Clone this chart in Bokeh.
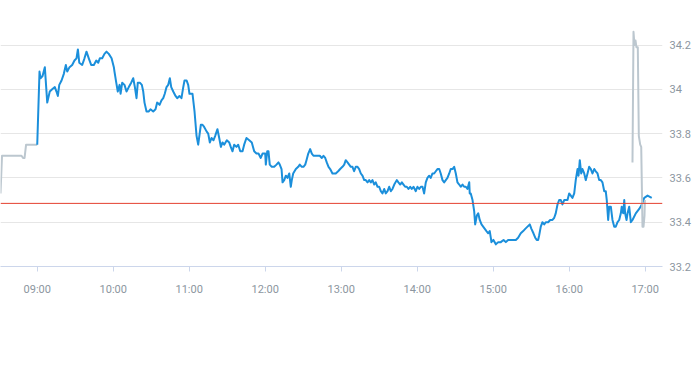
from bokeh.plotting import figure
from bokeh.models import FixedTicker, Span
from bokeh.embed import file_html
from bokeh.resources import INLINE

# ---- data (minutes after 09:00, price) ----
session_t = [0, 1.8, 2.6, 4.2, 6.0, 7.9, 9.9, 11.8, 13.9, 15.2, 16.3, 17.4, 19.2, 21.0, 22.6, 23.7, 25.5, 27.6, 29.4, 31.0,
             32.1, 33.2, 35.5, 37.3, 38.9, 40.7, 42.6, 44.7, 46.6, 48.2, 49.4, 51.3, 53.1, 54.7, 56.5, 58.7, 60.5, 61.0, 62.4, 63.6,
             65.0, 65.8, 67.1, 68.9, 70.5, 72.3, 74.2, 75.8, 77.1, 78.4, 79.4, 81.0, 82.6, 83.7, 84.7, 86.3, 88.1, 89.4, 91.6, 93.4,
             94.7, 96.6, 98.1, 99.5, 100.7, 102.1, 103.4, 104.7, 105.8, 107.4, 109.2, 110.5, 112.3, 113.9, 115.3, 116.3, 117.9, 119.2, 120.2, 122.6,
             124.2, 125.8, 127.1, 129.2, 130.5, 131.8, 133.7, 135.0, 136.3, 137.6, 139.2, 140.5, 142.3, 143.7, 145.0, 146.3, 147.6, 149.7, 151.6, 152.8,
             154.2, 155.5, 157.3, 158.7, 160.3, 162.1, 163.4, 165.2, 167.4, 169.4, 171.3, 173.1, 174.7, 176.5, 177.9, 180.0, 180.5, 181.6, 182.6, 183.6,
             185.2, 187.1, 188.9, 190.5, 191.5, 192.9, 193.7, 195.0, 196.3, 197.6, 199.0, 200.2, 201.0, 202.1, 204.2, 206.1, 207.3, 208.9, 210.2, 211.6,
             212.6, 214.0, 215.5, 216.8, 218.1, 220.0, 221.3, 223.1, 224.7, 226.0, 227.4, 228.6, 230.0, 231.3, 233.1, 234.5, 235.7, 237.6, 239.2, 241.0,
             242.4, 243.6, 245.0, 246.3, 247.6, 248.9, 250.2, 251.5, 252.9, 254.2, 255.5, 256.8, 258.2, 259.4, 260.8, 262.1, 263.4, 264.7, 266.1, 267.3,
             268.7, 270.0, 271.3, 272.6, 274.0, 275.2, 276.6, 277.9, 279.2, 280.5, 281.9, 283.9, 285.2, 286.6, 287.9, 289.2, 290.5, 291.8, 293.1, 294.5,
             295.7, 297.1, 298.9, 300.2, 301.6, 302.9, 304.2, 305.5, 306.8, 308.1, 309.5, 310.7, 312.1, 313.4, 314.7, 316.0, 317.4, 318.6, 320.0, 321.3,
             322.6, 323.9, 325.3, 326.5, 327.9, 329.2, 330.5, 331.8, 333.2, 334.4, 335.8, 337.1, 338.4, 339.7, 341.1, 341.5, 342.3, 343.7, 345.0, 345.8,
             347.1, 348.2, 349.4, 350.8, 352.1, 353.4, 354.7, 356.1, 357.3, 358.4, 358.6, 360.2, 362.1, 364.0, 366.0, 368.2, 370.0, 371.8, 373.9, 376.0,
             377.9, 379.7, 381.8, 383.7, 385.3, 387.1, 388.9, 390.2, 391.8, 393.2, 394.4, 395.5, 396.3, 397.6, 398.9, 400.3, 401.5, 403.4, 405.0, 406.8,
             408.2, 409.4, 410.8, 412.1, 413.4, 414.7, 416.1, 417.3, 418.7, 420.0, 421.3, 422.6, 424.0, 425.2, 426.6, 427.4, 428.4, 429.5, 430.5, 431.9,
             433.1, 434.5, 435.8, 437.1, 438.4, 439.8, 441.0, 442.4, 443.7, 445.0, 446.3, 447.7, 448.9, 449.7, 450.8, 451.6, 452.9, 454.2, 455.6, 456.8,
             458.2, 459.5, 460.8, 461.5, 462.7, 463.5, 464.2, 465.3, 466.1, 467.4, 468.7, 470.0, 472.6, 475.3, 477.4, 479.3, 481.9, 485.2]
session_p = [33.75, 34.08, 34.05, 34.06, 34.10, 33.94, 33.99, 34.00, 34.01, 33.99, 33.97, 34.02, 34.04, 34.07, 34.11, 34.08, 34.10, 34.11, 34.13, 34.14,
             34.18, 34.12, 34.11, 34.14, 34.17, 34.14, 34.11, 34.11, 34.13, 34.12, 34.14, 34.14, 34.16, 34.17, 34.16, 34.14, 34.10, 34.08, 34.03, 33.99,
             34.02, 33.98, 34.03, 34.02, 33.99, 34.01, 34.03, 34.05, 34.01, 33.96, 34.03, 34.03, 34.02, 33.99, 33.94, 33.90, 33.90, 33.91, 33.90, 33.91,
             33.94, 33.93, 33.95, 33.96, 33.98, 34.01, 34.02, 34.05, 34.01, 33.99, 33.97, 33.96, 33.97, 33.96, 34.01, 34.04, 34.04, 34.02, 33.98, 33.98,
             33.90, 33.79, 33.75, 33.84, 33.84, 33.83, 33.81, 33.80, 33.76, 33.78, 33.77, 33.79, 33.82, 33.78, 33.74, 33.76, 33.75, 33.77, 33.76, 33.74,
             33.72, 33.75, 33.74, 33.75, 33.72, 33.72, 33.75, 33.78, 33.77, 33.76, 33.72, 33.71, 33.71, 33.69, 33.71, 33.71, 33.66, 33.72, 33.72, 33.66,
             33.65, 33.65, 33.66, 33.67, 33.66, 33.64, 33.58, 33.59, 33.61, 33.60, 33.62, 33.56, 33.59, 33.62, 33.64, 33.65, 33.66, 33.65, 33.65, 33.66,
             33.68, 33.71, 33.73, 33.71, 33.70, 33.70, 33.70, 33.70, 33.69, 33.70, 33.69, 33.67, 33.65, 33.64, 33.62, 33.62, 33.62, 33.63, 33.64, 33.65,
             33.66, 33.68, 33.67, 33.66, 33.65, 33.65, 33.63, 33.65, 33.65, 33.64, 33.62, 33.61, 33.59, 33.59, 33.58, 33.59, 33.58, 33.59, 33.57, 33.58,
             33.56, 33.56, 33.54, 33.53, 33.55, 33.53, 33.54, 33.56, 33.54, 33.55, 33.57, 33.59, 33.58, 33.57, 33.58, 33.57, 33.56, 33.56, 33.55, 33.56,
             33.55, 33.56, 33.54, 33.56, 33.55, 33.56, 33.56, 33.53, 33.58, 33.60, 33.61, 33.60, 33.62, 33.62, 33.63, 33.64, 33.64, 33.62, 33.59, 33.58,
             33.59, 33.60, 33.62, 33.64, 33.64, 33.65, 33.62, 33.58, 33.57, 33.56, 33.57, 33.56, 33.56, 33.55, 33.58, 33.53, 33.53, 33.50, 33.45, 33.39,
             33.43, 33.44, 33.41, 33.39, 33.38, 33.37, 33.36, 33.35, 33.36, 33.32, 33.31, 33.32, 33.30, 33.31, 33.31, 33.32, 33.31, 33.32, 33.32, 33.32,
             33.32, 33.33, 33.35, 33.36, 33.37, 33.38, 33.39, 33.37, 33.35, 33.33, 33.32, 33.32, 33.34, 33.38, 33.40, 33.39, 33.40, 33.40, 33.41, 33.41,
             33.42, 33.44, 33.48, 33.50, 33.50, 33.48, 33.50, 33.50, 33.50, 33.53, 33.52, 33.51, 33.53, 33.59, 33.64, 33.61, 33.68, 33.62, 33.64, 33.62,
             33.59, 33.62, 33.65, 33.64, 33.62, 33.64, 33.63, 33.62, 33.59, 33.59, 33.58, 33.54, 33.54, 33.50, 33.41, 33.47, 33.47, 33.41, 33.38, 33.38,
             33.40, 33.41, 33.44, 33.47, 33.44, 33.50, 33.44, 33.41, 33.44, 33.47, 33.40, 33.41, 33.44, 33.46, 33.48, 33.51, 33.52, 33.51]

pre_t = [-29.0, -27.8, -12.4, -11.2, -10.0, -8.8, 0.0]
pre_p = [33.53, 33.70, 33.70, 33.69, 33.69, 33.75, 33.75]

post_t = [470.0, 470.8, 471.6, 472.4, 473.1, 474.2, 475.0, 476.1, 476.9, 477.9, 478.7, 479.5, 479.8]
post_p = [33.67, 34.26, 34.20, 34.22, 34.19, 34.19, 33.79, 33.75, 33.74, 33.38, 33.38, 33.43, 33.50]

prev_close = 33.485

open_minute = 540  # 09:00
xtick_minutes = [540, 600, 660, 720, 780, 840, 900, 960, 1020]
xtick_labels = ["09:00", "10:00", "11:00", "12:00", "13:00", "14:00", "15:00", "16:00", "17:00"]
ytick_values = [33.2, 33.4, 33.6, 33.8, 34.0, 34.2]
ytick_labels = ["33.2", "33.4", "33.6", "33.8", "34", "34.2"]

BLUE = "#1b8fdb"
GREY = "#bcc7cf"
LABEL = "#8c96a0"
FONT = "Roboto"

p = figure(frame_width=662, frame_height=266, output_backend="svg", toolbar_location=None,
           x_range=(511.0, 1033.7), y_range=(33.2, 34.401),
           y_axis_location="right", min_border_left=0, min_border_top=0,
           min_border_right=0, min_border_bottom=0)
p.outline_line_color = None
p.background_fill_color = "white"
p.border_fill_color = "white"
p.xgrid.visible = False
p.ygrid.grid_line_color = "#e6e6e6"

ax = p.xaxis[0]
ax.ticker = FixedTicker(ticks=xtick_minutes)
ax.major_label_overrides = {m: l for m, l in zip(xtick_minutes, xtick_labels)}
ax.axis_line_color = "#ccd6eb"
ax.major_tick_line_color = "#ccd6eb"
ax.major_tick_out = 5
ax.major_tick_in = 0
ax.minor_tick_line_color = None
ax.major_label_standoff = 11
ax.major_label_text_font = FONT
ax.major_label_text_font_size = "11px"
ax.major_label_text_color = LABEL

ay = p.yaxis[0]
ay.ticker = FixedTicker(ticks=ytick_values)
ay.major_label_overrides = {v: l for v, l in zip(ytick_values, ytick_labels)}
ay.axis_line_color = None
ay.major_tick_line_color = None
ay.minor_tick_line_color = None
ay.major_tick_out = 0
ay.major_tick_in = 0
ay.major_label_standoff = 7
ay.major_label_text_font = FONT
ay.major_label_text_font_size = "11px"
ay.major_label_text_color = LABEL

p.add_layout(Span(location=prev_close, dimension="width", line_color="#e4402f", line_width=1))

p.line([open_minute + t for t in pre_t], pre_p, line_color=GREY, line_width=2, line_join="round")
p.line([open_minute + t for t in session_t], session_p, line_color=BLUE, line_width=2, line_join="round")
p.line([open_minute + t for t in post_t], post_p, line_color=GREY, line_width=2, line_join="round")

open("out.html", "w").write(file_html(p, INLINE))
